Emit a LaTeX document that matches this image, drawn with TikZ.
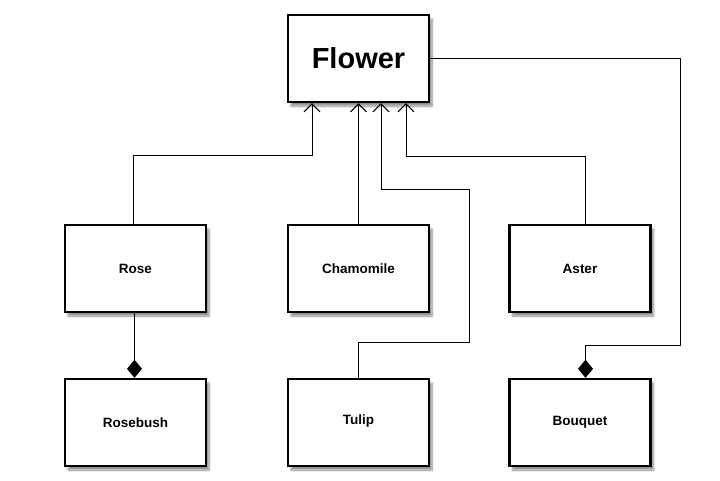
\documentclass[tikz,border=0pt]{standalone}
\usepackage{fontspec}
\setmainfont{Liberation Sans}
\usetikzlibrary{arrows.meta,shadows.blur}

\begin{document}
\begin{tikzpicture}[x=1pt,y=-1pt]
\tikzset{
	c/.style={rectangle, draw=black, line width=2.4pt, fill=white,
		minimum width=141pt, minimum height=87pt,
		font=\fontsize{13.5}{16}\selectfont\bfseries,
		blur shadow={shadow xshift=3pt, shadow yshift=-4pt, shadow blur steps=8, shadow opacity=45}},
	big/.style={c, font=\fontsize{29}{34}\selectfont\bfseries},
	inh/.style={line width=1pt, -{Straight Barb[length=8pt,width=16pt,line width=1pt]}},
	comp/.style={line width=1pt, -{Diamond[length=18pt,width=15pt]}}
}
\useasboundingbox (0,0) rectangle (720,480);

% top
\node[big] (flower) at(358.5,58.5) {Flower};

% middle row
\node[c] (rose)      at(135.5,268.5) {Rose};
\node[c] (chamomile) at(358.5,268.5) {Chamomile};
\node[c] (aster)     at(580,268.5)   {Aster};

% bottom row
\node[c] (rosebush) at(135.5,422.5) {Rosebush};
\node[c] (tulip)    at(358.5,422.5) {\raisebox{5pt}{Tulip}};
\node[c] (bouquet)  at(580,422.5)   {Bouquet};

% inheritance
\draw[inh] ([xshift=-2.5pt]rose.north) -- ++(0,-68) -| ([xshift=-46.5pt]flower.south);
\draw[inh] (chamomile.north) -- (flower.south);
\draw[inh] (tulip.north) -- ++(0,-35) -| ++(110.5,-153) -| ([xshift=22.5pt]flower.south);
\draw[inh] ([xshift=5.5pt]aster.north) -- ++(0,-67) -| ([xshift=47.5pt]flower.south);

% composition
\draw[comp] ([xshift=-1pt]rose.south) -- ([xshift=-1pt]rosebush.north);
\draw[comp] (flower.east) -| ++(250,286.5) -| ([xshift=5.5pt]bouquet.north);

\end{tikzpicture}
\end{document}
